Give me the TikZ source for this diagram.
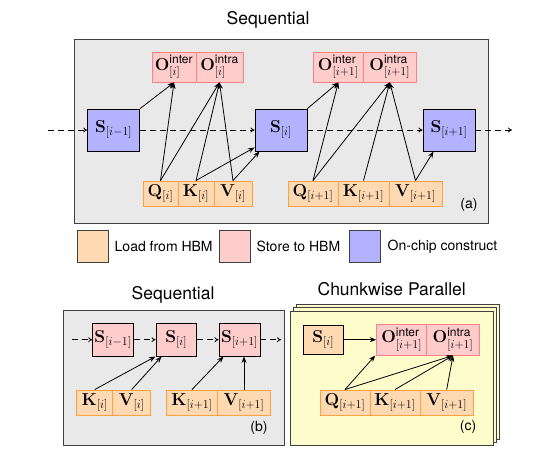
\documentclass[tikz,border=0pt]{standalone}
\usepackage{amsmath}
\usepackage[no-math]{fontspec}
\setmainfont{TeX Gyre Heros}
\usetikzlibrary{arrows.meta}
\DeclareMathSizes{16}{16}{12}{9}
\tikzset{
  bx/.style={rectangle, inner sep=0pt, font=\fontsize{16}{18}\selectfont},
  ld/.style={bx, fill=orange!30, draw=orange!75, line width=0.9pt},
  st/.style={bx, fill=red!20, draw=red!50, line width=0.9pt},
  oc/.style={bx, fill=blue!30, draw=black, line width=0.9pt},
  stb/.style={bx, fill=red!20, draw=black, line width=0.9pt},
  ldb/.style={bx, fill=orange!30, draw=black, line width=0.9pt},
  lg/.style={rectangle, inner sep=0pt, draw=black!75, line width=0.8pt, minimum width=31pt, minimum height=32pt},
  bgp/.style={fill=gray!17, draw=black!75, line width=0.9pt},
  bgy/.style={fill=yellow!20, draw=black!75, line width=0.9pt},
  dflow/.style={dash pattern=on 6pt off 4pt, line width=0.8pt, -{To[length=4pt,width=5pt]}},
  sflow/.style={line width=0.8pt, -{Stealth[length=6.5pt,width=5pt]}},
  ttl/.style={font=\fontsize{17.5}{20}\selectfont},
  lbl/.style={font=\fontsize{14}{16}\selectfont, anchor=west, inner sep=0pt},
}
\begin{document}
\begin{tikzpicture}[x=1pt,y=-1pt]
\useasboundingbox (0,0) rectangle (559,455);
% ---------------- panel (a)
\node[ttl] (ta) at (268,20) {Sequential};
\draw[bgp] (74.7,39) rectangle (488,223);
\node[oc, minimum width=52pt, minimum height=42pt] (Sa0) at (113.7,130) {$\mathbf{S}_{[i-1]}$};
\node[oc, minimum width=52pt, minimum height=42pt] (Sa1) at (281,130) {$\mathbf{S}_{[i]}$};
\node[oc, minimum width=52pt, minimum height=42pt] (Sa2) at (449,130) {$\mathbf{S}_{[i+1]}$};
\node[st, minimum width=44pt, minimum height=30pt] (Oe1) at (174,67) {$\mathbf{O}^{\text{inter}}_{[i]}$};
\node[st, minimum width=47pt, minimum height=30pt] (Oa1) at (219.5,67) {$\mathbf{O}^{\text{intra}}_{[i]}$};
\node[st, minimum width=49.3pt, minimum height=30pt] (Oe2) at (338.3,67) {$\mathbf{O}^{\text{inter}}_{[i+1]}$};
\node[st, minimum width=53.7pt, minimum height=30pt] (Oa2) at (389.8,67) {$\mathbf{O}^{\text{intra}}_{[i+1]}$};
\node[ld, minimum width=35pt, minimum height=25pt] (Q1) at (160.5,193.5) {$\mathbf{Q}_{[i]}$};
\node[ld, minimum width=36pt, minimum height=25pt] (K1) at (196,193.5) {$\mathbf{K}_{[i]}$};
\node[ld, minimum width=38pt, minimum height=25pt] (V1) at (233,193.5) {$\mathbf{V}_{[i]}$};
\node[ld, minimum width=50pt, minimum height=25pt] (Q2) at (313,193.5) {$\mathbf{Q}_{[i+1]}$};
\node[ld, minimum width=51pt, minimum height=25pt] (K2) at (363.5,193.5) {$\mathbf{K}_{[i+1]}$};
\node[ld, minimum width=53pt, minimum height=25pt] (V2) at (415.5,193.5) {$\mathbf{V}_{[i+1]}$};
\coordinate (la) at (48,130);
\coordinate (ra) at (512,130);
\draw[dflow] (la) -- (Sa0.west);
\draw[dflow] (Sa0.east) -- (Sa1.west);
\draw[dflow] (Sa1.east) -- (Sa2.west);
\draw[dflow] (Sa2.east) -- (ra);
\draw[sflow] (Sa0.north east) -- (Oe1.south);
\draw[sflow] (Q1.north) -- (Oe1.south);
\draw[sflow] (Q1.north) -- (Oa1.south);
\draw[sflow] (K1.north) -- (Oa1.south);
\draw[sflow] (V1.north) -- (Oa1.south);
\draw[sflow] (K1.north) -- ([yshift=4pt]Sa1.south west);
\draw[sflow] (V1.north) -- ([xshift=5pt]Sa1.south west);
\draw[sflow] (Sa1.north east) -- (Oe2.south);
\draw[sflow] (Q2.north) -- (Oe2.south);
\draw[sflow] (Q2.north) -- (Oa2.south);
\draw[sflow] (K2.north) -- (Oa2.south);
\draw[sflow] (V2.north) -- (Oa2.south);
\draw[sflow] (V2.north) -- ([xshift=11pt]Sa2.south west);
\node[lbl, anchor=center] (la1) at (469,205) {(a)};
% ---------------- legend
\node[lg, fill=orange!30] (g1) at (92.8,246.3) {};
\node[lbl] (g1t) at (114.5,246.3) {Load from HBM};
\node[lg, fill=red!20] (g2) at (235.3,246.3) {};
\node[lbl] (g2t) at (256.5,246.3) {Store to HBM};
\node[lg, fill=blue!30] (g3) at (364.5,246.3) {};
\node[lbl] (g3t) at (387.5,246.3) {On-chip construct};
% ---------------- panel (b)
\node[ttl] (tb) at (173,295) {Sequential};
\draw[bgp] (63.3,310.7) rectangle (284,445.7);
\node[stb, minimum width=40.6pt, minimum height=32.7pt] (Sb0) at (113,339.7) {$\mathbf{S}_{[i-1]}$};
\node[stb, minimum width=40.7pt, minimum height=32.7pt] (Sb1) at (176.3,339.7) {$\mathbf{S}_{[i]}$};
\node[stb, minimum width=41pt, minimum height=32.7pt] (Sb2) at (239.5,339.7) {$\mathbf{S}_{[i+1]}$};
\node[ld, minimum width=36pt, minimum height=25pt] (Kb1) at (94.7,402.5) {$\mathbf{K}_{[i]}$};
\node[ld, minimum width=38pt, minimum height=25pt] (Vb1) at (131.7,402.5) {$\mathbf{V}_{[i]}$};
\node[ld, minimum width=50.6pt, minimum height=25pt] (Kb2) at (192,402.5) {$\mathbf{K}_{[i+1]}$};
\node[ld, minimum width=53.4pt, minimum height=25pt] (Vb2) at (244,402.5) {$\mathbf{V}_{[i+1]}$};
\coordinate (lb) at (71.7,339.7);
\coordinate (rb) at (281,339.7);
\draw[dflow] (lb) -- (Sb0.west);
\draw[dflow] (Sb0.east) -- (Sb1.west);
\draw[dflow] (Sb1.east) -- (Sb2.west);
\draw[dflow] (Sb2.east) -- (rb);
\draw[sflow] (Kb1.north) -- (Sb1.south west);
\draw[sflow] (Vb1.north) -- ([xshift=6pt]Sb1.south west);
\draw[sflow] (Kb2.north) -- ([xshift=5pt]Sb2.south west);
\draw[sflow] (Vb2.north) -- (Vb2.north |- Sb2.south);
\node[lbl, anchor=center] (lb1) at (259,428) {(b)};
% ---------------- panel (c)
\node[ttl] (tc) at (391.7,289) {Chunkwise Parallel};
\draw[bgy] (296.7,304.5) rectangle (499.3,439.2);
\draw[bgy] (293.7,307.8) rectangle (496.3,442.5);
\draw[bgy] (290.7,311) rectangle (493.3,445.7);
\node[ldb, minimum width=40pt, minimum height=29.3pt] (Sc) at (323.3,339.7) {$\mathbf{S}_{[i]}$};
\node[st, minimum width=50pt, minimum height=30.7pt] (Oce) at (401.7,339.7) {$\mathbf{O}^{\text{inter}}_{[i+1]}$};
\node[st, minimum width=52.6pt, minimum height=30.7pt] (Oca) at (453,339.7) {$\mathbf{O}^{\text{intra}}_{[i+1]}$};
\node[ld, minimum width=50pt, minimum height=25pt] (Qc) at (345,402.5) {$\mathbf{Q}_{[i+1]}$};
\node[ld, minimum width=50pt, minimum height=25pt] (Kc) at (395,402.5) {$\mathbf{K}_{[i+1]}$};
\node[ld, minimum width=53.3pt, minimum height=25pt] (Vc) at (446.7,402.5) {$\mathbf{V}_{[i+1]}$};
\draw[sflow] (Sc.east) -- (Oce.west);
\draw[sflow] (Qc.north) -- ([xshift=-1pt]Oce.south west);
\draw[sflow] (Qc.north) -- (Oca.south);
\draw[sflow] (Kc.north) -- (Oca.south);
\draw[sflow] (Vc.north) -- (Oca.south);
\node[lbl, anchor=center] (lc1) at (468,427) {(c)};
\end{tikzpicture}
\end{document}
